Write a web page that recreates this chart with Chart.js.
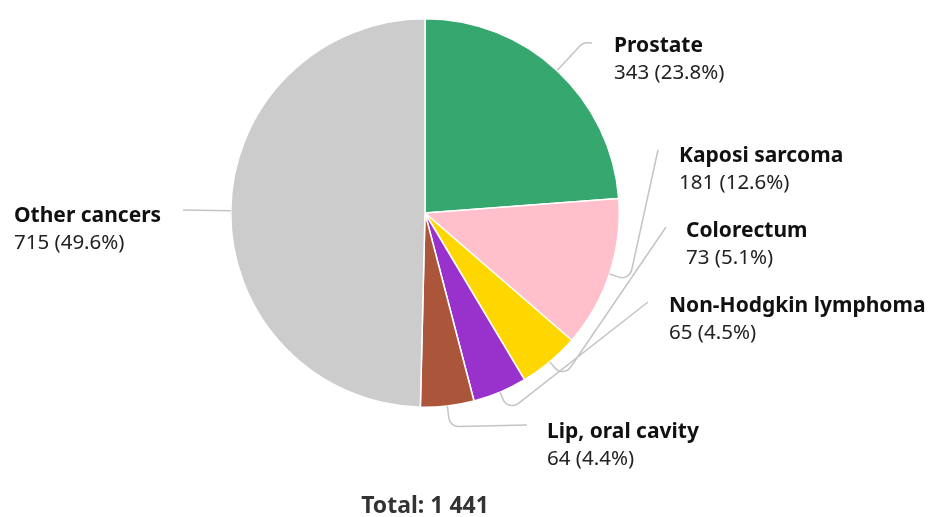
<!DOCTYPE html>
<html>
<head>
<meta charset="utf-8">
<script src="https://cdn.jsdelivr.net/npm/chart.js@4"></script>
<style>
  html, body { margin: 0; padding: 0; background: #fff; }
  #wrap { width: 933px; height: 517px; position: relative; }
</style>
</head>
<body>
<div id="wrap"><canvas id="pieChart" width="933" height="517"></canvas></div>
<script>
// Data
const categories = ['Prostate', 'Kaposi sarcoma', 'Colorectum', 'Non-Hodgkin lymphoma', 'Lip, oral cavity', 'Other cancers'];
const cases = [343, 181, 73, 65, 64, 715];
const percents = ['23.8%', '12.6%', '5.1%', '4.5%', '4.4%', '49.6%'];
const totalLabel = 'Total: 1 441';

const sliceColors = ['#36a76e', '#ffc0cb', '#ffd700', '#9932cc', '#ab563b', '#cccccc'];

// Label layout: text position and where the leader line ends
const labelLayout = [
    { x: 614, y: 46, endX: 592, endY: 43, bend: 38 },
    { x: 679, y: 156, endX: 658, endY: 150, bend: 21 },
    { x: 686, y: 231, endX: 666, endY: 227, bend: 21 },
    { x: 669, y: 306, endX: 648, endY: 302, bend: 21 },
    { x: 547, y: 432, endX: 527, endY: 425, bend: 21 },
    { x: 14, y: 216, endX: 183, endY: 210, bend: 0 }
];

const leaderLabels = {
    id: 'leaderLabels',
    afterDatasetsDraw(chart) {
        const ctx = chart.ctx;
        const arcs = chart.getDatasetMeta(0).data;
        ctx.save();
        arcs.forEach((arc, i) => {
            const lay = labelLayout[i];
            const mid = (arc.startAngle + arc.endAngle) / 2;
            const r = arc.outerRadius;
            const sx = arc.x + Math.cos(mid) * r;
            const sy = arc.y + Math.sin(mid) * r;
            ctx.strokeStyle = '#c4c4c4';
            ctx.lineWidth = 1.5;
            ctx.beginPath();
            ctx.moveTo(sx, sy);
            if (lay.bend > 0) {
                const bx = arc.x + Math.cos(mid) * (r + lay.bend);
                const by = arc.y + Math.sin(mid) * (r + lay.bend);
                ctx.arcTo(bx, by, lay.endX, lay.endY, 10);
            }
            ctx.lineTo(lay.endX, lay.endY);
            ctx.stroke();

            ctx.textAlign = 'left';
            ctx.textBaseline = 'middle';
            ctx.fillStyle = '#111';
            ctx.font = 'bold 21px "Noto Sans"';
            ctx.fillText(categories[i], lay.x, lay.y);
            ctx.fillStyle = '#222';
            ctx.font = '20.5px "Noto Sans"';
            ctx.fillText(cases[i] + ' (' + percents[i] + ')', lay.x, lay.y + 27);
        });

        ctx.textAlign = 'center';
        ctx.fillStyle = '#333';
        ctx.font = 'bold 23px "Noto Sans"';
        ctx.fillText(totalLabel, 425, 506);
        ctx.restore();
    }
};

const canvas = document.getElementById('pieChart');
new Chart(canvas, {
    type: 'pie',
    data: {
        labels: categories,
        datasets: [{
            data: cases,
            backgroundColor: sliceColors,
            borderColor: '#ffffff',
            borderWidth: 1.5
        }]
    },
    options: {
        responsive: false,
        animation: false,
        layout: {
            padding: { left: 230, right: 313, top: 17, bottom: 108 }
        },
        plugins: {
            legend: { display: false },
            tooltip: { enabled: false }
        }
    },
    plugins: [leaderLabels]
});
</script>
</body>
</html>
